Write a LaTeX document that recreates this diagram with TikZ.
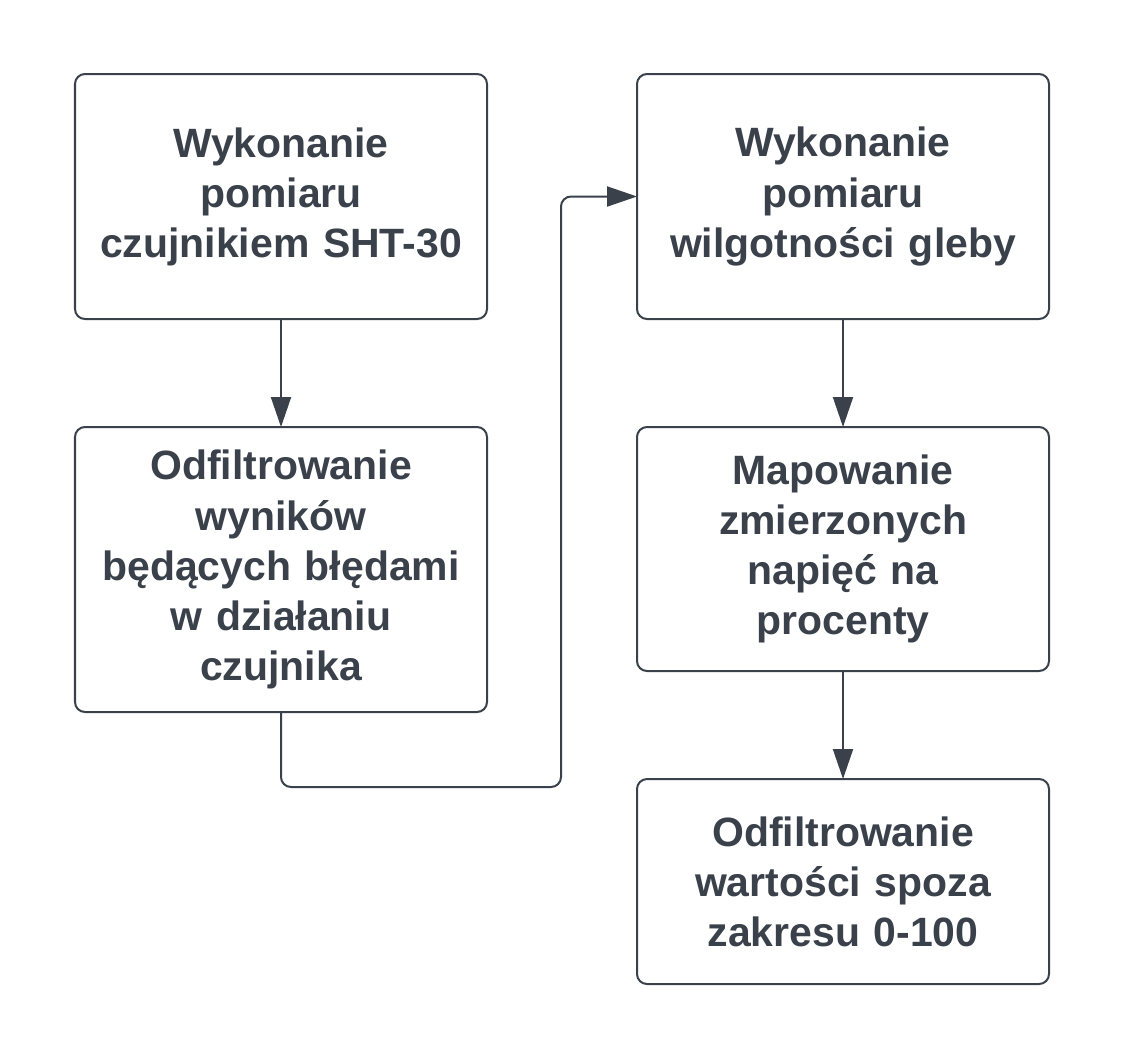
\documentclass[tikz,border=0pt]{standalone}
\usepackage{fontspec}
\setmainfont{Liberation Sans}
\usepackage{tikz}
\usetikzlibrary{arrows.meta,positioning}
\definecolor{lcDark}{HTML}{3A414A}

\begin{document}
\begin{tikzpicture}[
  node distance=2.16cm and 3cm,
  box/.style={
    draw=lcDark,
    line width=1.14pt,
    rounded corners=0.2cm,
    fill=white,
    minimum width=8.24cm,
    text width=7.6cm,
    inner sep=0pt,
    outer sep=0pt,
    align=center,
    text=lcDark,
    font=\fontsize{23.3pt}{28.5pt}\selectfont\bfseries
  },
  arrow/.style={-{Triangle[length=0.6cm,width=0.4cm]},line width=1.14pt,lcDark}
]
  \useasboundingbox (0,0) rectangle (22.5,-21.18);
  \node[box,minimum height=4.9cm,anchor=north west] (sht) at (1.5,-1.48)
    {Wykonanie\\pomiaru\\czujnikiem SHT-30};
  \node[box,minimum height=5.7cm,below=of sht] (filtr)
    {Odfiltrowanie\\wyników\\będących błędami\\w działaniu\\czujnika};
  \node[box,minimum height=4.9cm,right=of sht] (gleba)
    {Wykonanie\\pomiaru\\wilgotności gleby};
  \node[box,minimum height=4.88cm,below=of gleba] (mapa)
    {Mapowanie\\zmierzonych\\napięć na\\procenty};
  \node[box,minimum height=4.1cm,below=of mapa] (zakres)
    {Odfiltrowanie\\wartości spoza\\zakresu 0-100};

  \draw[arrow] (sht)--(filtr);
  \draw[arrow,rounded corners=0.2cm] (filtr.south)--++(0,-1.5)--++(5.6,0)|-(gleba.west);
  \draw[arrow] (gleba)--(mapa);
  \draw[arrow] (mapa)--(zakres);
\end{tikzpicture}
\end{document}
